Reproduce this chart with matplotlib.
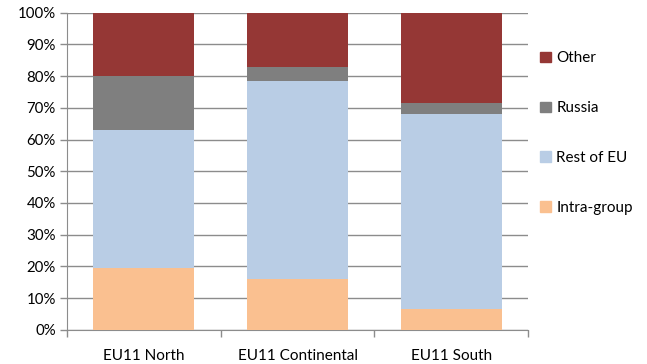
import numpy as np
import matplotlib
matplotlib.use("Agg")
import matplotlib.pyplot as plt
from matplotlib.patches import Patch

# data (shares, %)
regions = ["EU11 North", "EU11 Continental", "EU11 South"]
intra_group = [19.6, 16.0, 6.5]
rest_of_eu = [43.4, 62.5, 61.6]
russia = [16.9, 4.3, 3.3]
other = [20.1, 17.2, 28.6]

series = ["Intra-group", "Rest of EU", "Russia", "Other"]
colors = ["#FAC090", "#B9CDE5", "#7F7F7F", "#953735"]

plt.rcParams['font.family'] = ['Lato', 'DejaVu Sans']

fig = plt.figure(figsize=(6.47, 3.64), dpi=100)
ax = fig.add_axes([0.1036, 0.0942, 0.7125, 0.8709])

x = np.arange(len(regions))
bottom = np.zeros(len(regions))
for vals, c in zip([intra_group, rest_of_eu, russia, other], colors):
    ax.bar(x, vals, width=0.657, bottom=bottom, color=c, zorder=3)
    bottom += np.array(vals)

ax.set_ylim(0, 100)
ax.set_xlim(-0.5, 2.5)
ax.set_yticks(np.arange(0, 101, 10))
ax.set_yticklabels([f"{v}%" for v in range(0, 101, 10)], fontsize=10.8)
ax.yaxis.grid(True, color="#8C8C8C", linewidth=1, zorder=0)

ax.set_xticks(x)
ax.set_xticklabels(regions, fontsize=11)
ax.tick_params(axis="x", which="major", length=0, pad=14)
ax.set_xticks([-0.5, 0.5, 1.5, 2.5], minor=True)
ax.tick_params(axis="x", which="minor", length=5, color="#8C8C8C", width=1)
ax.tick_params(axis="y", length=5, color="#8C8C8C", width=1, pad=3)

for s in ["top", "right"]:
    ax.spines[s].set_visible(False)
ax.spines["left"].set_color("#8C8C8C")
ax.spines["bottom"].set_color("#8C8C8C")

handles = [Patch(color=c, label=s) for s, c in zip(series, colors)][::-1]
fig.legend(handles=handles, loc="upper left", bbox_to_anchor=(0.823, 0.88),
           frameon=False, fontsize=11, handlelength=0.7, handleheight=0.7,
           handletextpad=0.35, labelspacing=2.35, borderpad=0)

fig.savefig("out.png", dpi=100)
